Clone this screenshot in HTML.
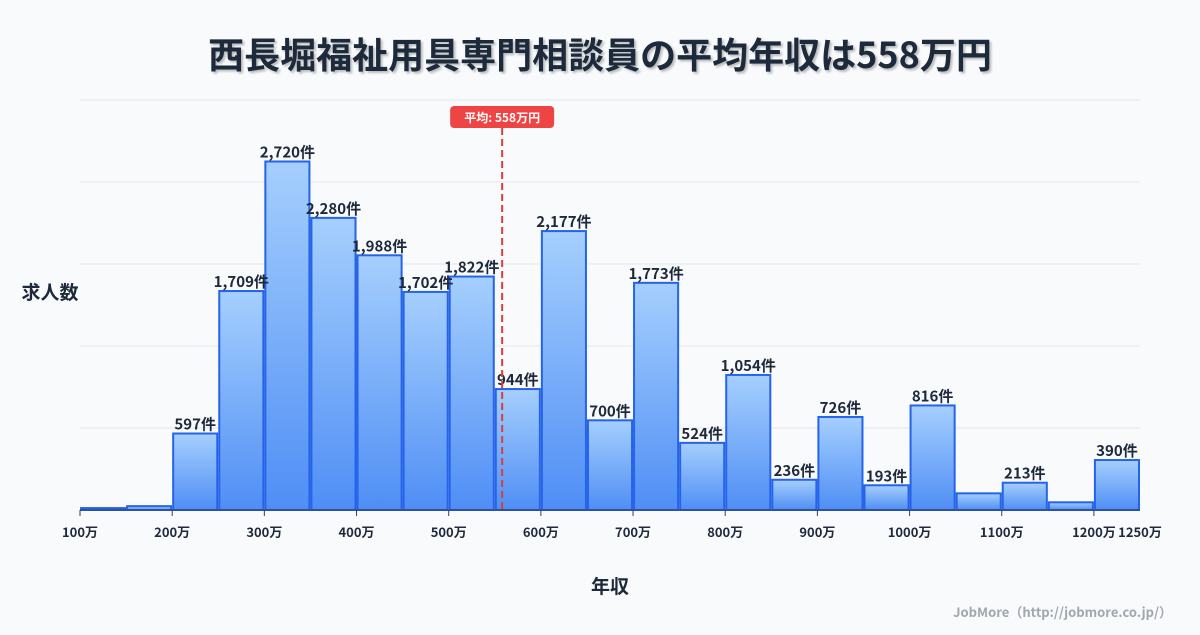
<!DOCTYPE html>
<html><head><meta charset="utf-8">
<style>
body{margin:0;background:#f8fafc;}
svg text{font-family:"Noto Sans CJK JP","Liberation Sans",sans-serif;}
</style></head>
<body>
<svg id="chart" width="1200" height="630" viewBox="0 0 1200 630" xmlns="http://www.w3.org/2000/svg">
<defs>
<linearGradient id="bg" x1="0" y1="0" x2="0" y2="1">
<stop offset="0" stop-color="#a5cffd"/><stop offset="1" stop-color="#4f8ef5"/>
</linearGradient>
<filter id="sh"><feDropShadow dx="2" dy="2" stdDeviation="1" flood-color="#000" flood-opacity="0.25"/></filter>
</defs>
<rect width="1200" height="630" fill="#f8fafc"/>
<text x="600" y="68" text-anchor="middle" font-size="36" font-weight="bold" fill="#1e293b" filter="url(#sh)">西長堀福祉用具専門相談員の平均年収は558万円</text>
<g id="grid"></g>
<g id="bars"></g>
<g id="labels"></g>
<g id="xaxis"></g>
<text x="50" y="299" text-anchor="middle" font-size="19" font-weight="bold" fill="#1e293b">求人数</text>
<text x="610" y="593" text-anchor="middle" font-size="19" font-weight="bold" fill="#1e293b">年収</text>
<text x="1172" y="617" text-anchor="end" font-size="13" font-weight="bold" fill="#a0a7b1">JobMore（http://jobmore.co.jp/）</text>
</svg>
<script>
const binStarts=[100,150,200,250,300,350,400,450,500,550,600,650,700,750,800,850,900,950,1000,1050,1100,1150,1200];
const counts=[15,30,597,1709,2720,2280,1988,1702,1822,944,2177,700,1773,524,1054,236,726,193,816,130,213,60,390];
const showLabel=[false,false,true,true,true,true,true,true,true,true,true,true,true,true,true,true,true,true,true,false,true,false,true];
const tickValues=[100,200,300,400,500,600,700,800,900,1000,1100,1200,1250];
const meanValue=558;
const yMax=3200, gridCount=5;
const NS="http://www.w3.org/2000/svg";
const X0=80,X1=1140,Y0=510,Y1=100;
const xs=v=>X0+(v-100)/(1250-100)*(X1-X0);
const ys=v=>Y0-v/yMax*(Y0-Y1);
function mk(tag,attrs,parent,text){const e=document.createElementNS(NS,tag);for(const k in attrs)e.setAttribute(k,attrs[k]);if(text!==undefined)e.textContent=text;document.getElementById(parent).appendChild(e);return e;}
for(let i=0;i<=gridCount;i++){const y=ys(yMax/gridCount*i);
const g=mk('line',{x1:X0,x2:X1,y1:y,y2:y,stroke:'#e5e7eb','stroke-width':1},'grid');

}
binStarts.forEach((b,i)=>{const xa=xs(b)+1,xb=xs(b+50)-1,y=ys(counts[i]);
const r=mk('rect',{x:xa,y:y,width:xb-xa,height:Y0-y,fill:'url(#bg)',stroke:'#2563eb','stroke-width':2},'bars');


if(showLabel[i]){const t=mk('text',{x:(xa+xb)/2,y:y-4,'text-anchor':'middle','font-size':15,'font-weight':'bold',fill:'#1e293b'},'labels',counts[i].toLocaleString('en-US')+'件');

}
});
const ax=mk('line',{x1:X0,x2:X1,y1:Y0,y2:Y0,stroke:'#334155','stroke-width':1},'xaxis');


tickValues.forEach(v=>{const x=xs(v);
if(v!==1250){const tk=mk('line',{x1:x,x2:x,y1:Y0,y2:Y0+6,stroke:'#334155'},'xaxis');

}
const t=mk('text',{x:x,y:537,'text-anchor':'middle','font-size':13,'font-weight':'bold',fill:'#1e293b'},'xaxis',v+'万');

});
const mx=xs(meanValue);
const ml=mk('line',{x1:mx,x2:mx,y1:128,y2:Y0,stroke:'#dc3c3c','stroke-width':2,'stroke-dasharray':'7,4'},'labels');


const mb=mk('rect',{x:mx-52,y:106,width:104,height:22,rx:4,fill:'#ef4444'},'labels');


const mt=mk('text',{x:mx,y:122,'text-anchor':'middle','font-size':12,'font-weight':'bold',fill:'#fff'},'labels','平均: '+meanValue+'万円');


</script>
</body></html>
